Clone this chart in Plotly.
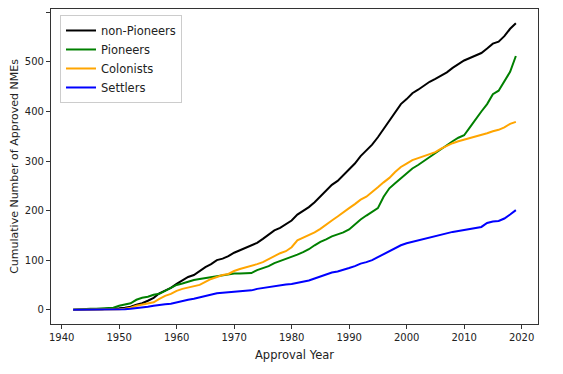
import plotly.graph_objects as go

years = list(range(1942, 2020))

non_pioneers = [0, 0, 0, 1, 1, 1, 2, 2, 3, 4, 6, 10, 13, 18, 24, 33, 38, 44, 52, 59,
                66, 70, 78, 86, 92, 100, 103, 108, 115, 120, 124, 130, 135, 143, 151, 160, 165, 172, 180, 192,
                200, 207, 217, 228, 240, 252, 260, 272, 283, 295, 310, 322, 333, 348, 365, 382, 398, 415, 425, 437,
                444, 452, 460, 466, 472, 479, 488, 496, 503, 508, 513, 518, 527, 537, 541, 552, 567, 578]

pioneers = [0, 1, 1, 2, 2, 3, 3, 4, 8, 11, 13, 20, 24, 26, 30, 32, 38, 44, 50, 53,
            57, 60, 62, 64, 66, 68, 70, 71, 73, 73, 74, 74, 80, 84, 88, 94, 98, 103, 107, 111,
            116, 122, 130, 137, 142, 148, 152, 156, 162, 172, 182, 190, 197, 205, 228, 245, 255, 265, 275, 285,
            292, 300, 308, 316, 325, 333, 340, 347, 352, 368, 385, 400, 415, 435, 442, 460, 480, 512]

colonists = [0, 0, 0, 0, 0, 0, 0, 0, 1, 2, 4, 8, 10, 12, 15, 22, 28, 32, 38, 42,
             45, 47, 50, 56, 62, 66, 70, 72, 78, 82, 85, 88, 92, 96, 102, 108, 114, 118, 126, 140,
             145, 150, 156, 163, 172, 180, 188, 197, 205, 213, 222, 228, 237, 247, 257, 266, 278, 288, 295, 302,
             306, 310, 314, 318, 325, 331, 336, 340, 343, 346, 349, 352, 356, 360, 363, 368, 375, 379]

settlers = [0, 0, 0, 0, 0, 0, 0, 0, 1, 1, 2, 3, 4, 6, 8, 10, 11, 12, 15, 18,
            20, 22, 25, 27, 30, 33, 34, 35, 35, 36, 37, 39, 42, 44, 46, 48, 50, 51, 52, 54,
            56, 59, 63, 67, 72, 75, 77, 80, 84, 88, 93, 96, 100, 106, 112, 118, 124, 130, 134, 137,
            140, 143, 146, 149, 152, 155, 157, 159, 161, 163, 165, 167, 175, 178, 179, 184, 192, 201]

x_ticks = [1940, 1950, 1960, 1970, 1980, 1990, 2000, 2010, 2020]
y_ticks = [0, 100, 200, 300, 400, 500, 600]

series = [("non-Pioneers", non_pioneers, "#000000"),
          ("Pioneers", pioneers, "#008000"),
          ("Colonists", colonists, "#FFA500"),
          ("Settlers", settlers, "#0000FF")]

fig = go.Figure()
for name, vals, col in series:
    fig.add_trace(go.Scatter(x=years, y=vals, mode="lines", name=name,
                             line=dict(color=col, width=2)))

font = "DejaVu Sans, sans-serif"
axis_common = dict(showline=True, linecolor="#333", linewidth=1.2, mirror=True,
                   ticks="outside", ticklen=4, tickwidth=1, tickcolor="#333",
                   showgrid=False, zeroline=False,
                   tickfont=dict(family=font, size=10, color="#222"))

# page body has an 8px default margin; compensate so the plot area lands where the reference has it
fig.update_layout(
    width=555, height=366,
    margin=dict(l=43, r=25, t=1, b=50, autoexpand=False),
    paper_bgcolor="white", plot_bgcolor="white",
    xaxis=dict(range=[1938.15, 2022.85], tickvals=x_ticks,
               title=dict(text="Approval Year", font=dict(family=font, size=11.5, color="#222"), standoff=8),
               automargin=False, **axis_common),
    yaxis=dict(range=[-28.9, 606.9], tickvals=y_ticks,
               title=dict(text="Cumulative Number of Approved NMEs", font=dict(family=font, size=11, color="#222"), standoff=6),
               automargin=False, **axis_common),
    legend=dict(x=0.0185, y=0.981, xanchor="left", yanchor="top",
                bgcolor="rgba(255,255,255,0.8)", bordercolor="#cccccc", borderwidth=1,
                font=dict(family=font, size=11.5, color="#222"),
                itemwidth=30),
    showlegend=True,
)

fig.write_html("out.html")
